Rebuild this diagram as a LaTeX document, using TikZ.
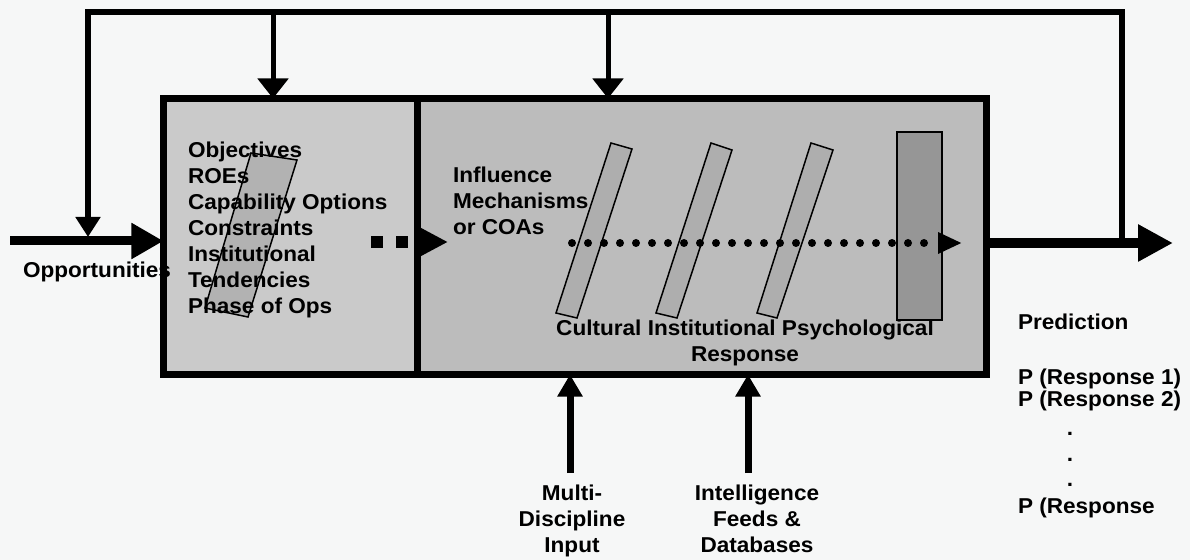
\documentclass[tikz,border=0pt]{standalone}
\usepackage{fontspec}
\setmainfont[FakeStretch=1.05]{Liberation Sans}
\usetikzlibrary{arrows.meta}
\definecolor{bgc}{RGB}{246,247,247}
\definecolor{lfill}{RGB}{202,202,202}
\definecolor{rfill}{RGB}{188,188,188}
\definecolor{barfill}{RGB}{174,174,174}
\definecolor{parfill}{RGB}{178,178,178}
\definecolor{darkbar}{RGB}{150,150,150}
\begin{document}
\begin{tikzpicture}[x=1bp,y=-1bp,
  lbl/.style={font=\fontsize{21.5bp}{26bp}\selectfont\bfseries, inner sep=0pt, outer sep=0pt},
  box/.style={draw=black, line width=7bp, inner sep=0pt, outer sep=0pt},
  slab/.style={draw=black, line width=1.5bp, fill=barfill},
  fb/.style={line width=6bp, line join=miter},
  branch/.style={line width=5bp, -{Triangle[length=20bp,width=30bp]}},
  upin/.style={line width=7bp, -{Triangle[length=22bp,width=24bp]}},
  dotline/.style={line width=8bp, line cap=round, dash pattern=on 0bp off 16bp, -{Triangle[length=24bp,width=20bp]}},
  sqline/.style={line width=12bp, dash pattern=on 12bp off 13bp, -{Triangle[length=30bp,width=29bp]}}
]
\fill[bgc] (0,0) rectangle (1190,560);
\useasboundingbox (0,0) rectangle (1190,560);

% main boxes
\node[box, fill=lfill, minimum width=253.5bp, minimum height=276bp] (left) at (290.25,236.5) {};
\node[box, fill=rfill, minimum width=569.5bp, minimum height=276bp] (right) at (701.75,236.5) {};

% slanted shapes
\draw[slab, fill=parfill] (251,153) -- (297,160) -- (248,317) -- (205,308) -- cycle;
\draw[slab] (611,143) -- (632,149) -- (577,318) -- (556,313) -- cycle;
\draw[slab] (711,143) -- (732,150) -- (677,318) -- (656,313) -- cycle;
\draw[slab] (811,143) -- (833,150) -- (777,318) -- (757,313) -- cycle;
\draw[slab, fill=darkbar] (897,132) rectangle (942,320);

% coordinates
\coordinate (inS) at (10,241);
\coordinate (outE) at (1173,243);
\coordinate (fbR) at (1122,243);
\coordinate (fbT) at (1122,12);
\coordinate (fbL) at (88,237);
\coordinate (b1) at (273,12);
\coordinate (b2) at (608,12);
\coordinate (u1) at (570,473);
\coordinate (u2) at (748,473);
\coordinate (d0) at (572,243);
\coordinate (d1) at (962,243);
\coordinate (s0) at (371,242);
\coordinate (s1) at (448,242);

% connectors
\draw[line width=9bp, -{Triangle[length=32bp,width=34bp]}] (inS) -- (inS -| left.west);
\draw[line width=10bp, -{Triangle[length=35bp,width=35bp]}] (right.east |- outE) -- (outE);
\draw[fb, -{Triangle[length=20bp,width=24bp]}] (fbR) -- (fbT) -| (fbL);
\draw[branch] (b1) -- (b1 |- left.north);
\draw[branch] (b2) -- (b2 |- right.north);
\draw[upin] (u1) -- (u1 |- right.south);
\draw[upin] (u2) -- (u2 |- right.south);
\draw[dotline] (d0) -- (d1);
\draw[sqline] (s0) -- (s1);

% texts
\node[lbl, anchor=north west, align=left] (ltext) at (188,142) {Objectives\\ROEs\\Capability Options\\Constraints\\Institutional\\Tendencies\\Phase of Ops};
\node[lbl, anchor=north west, align=left] (itext) at (453,167) {Influence\\Mechanisms\\or COAs};
\node[lbl, anchor=north, align=center] (ctext) at (745,320) {Cultural Institutional Psychological\\Response};
\node[lbl, anchor=north, align=center] (mtext) at (572,485) {Multi-\\Discipline\\Input};
\node[lbl, anchor=north, align=center] (intel) at (757,485) {Intelligence\\Feeds \&\\Databases};
\node[lbl, anchor=base west] (opp) at (23,278) {Opportunities};
\node[lbl, anchor=base west] (pred) at (1018,330) {Prediction};
\node[lbl, anchor=base west] (r1) at (1018,385) {P (Response 1)};
\node[lbl, anchor=base west] (r2) at (1018,406) {P (Response 2)};
\node[lbl, anchor=base] (dot1) at (1070,435) {.};
\node[lbl, anchor=base] (dot2) at (1070,461) {.};
\node[lbl, anchor=base] (dot3) at (1070,486) {.};
\node[lbl, anchor=base west] (rn) at (1018,513) {P (Response};
\end{tikzpicture}
\end{document}
